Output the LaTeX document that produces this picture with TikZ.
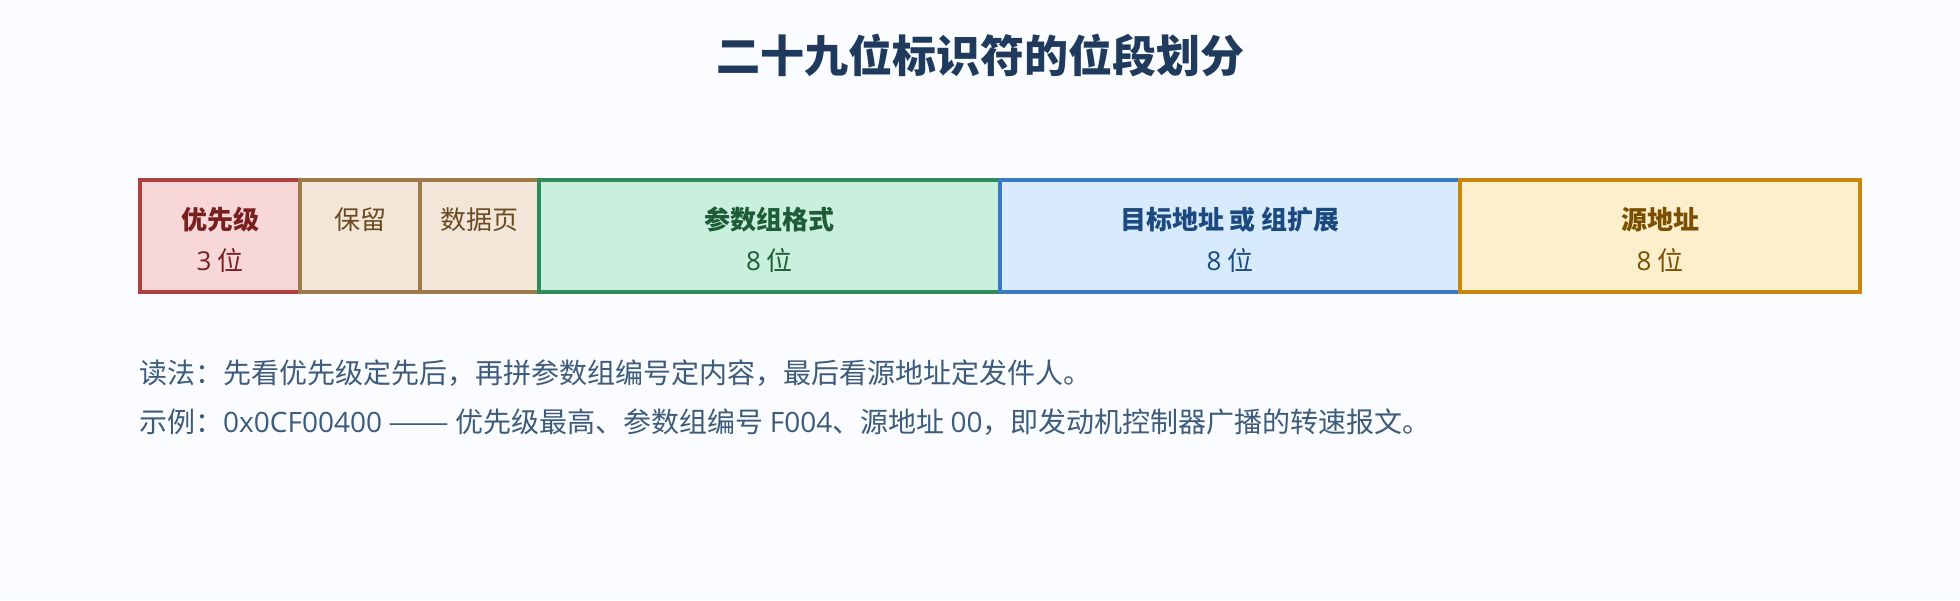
\documentclass[tikz,border=0pt]{standalone}
\usepackage{fontspec}
\usepackage{graphicx}
\setmainfont{Noto Sans CJK SC}
\newfontfamily\latinfont{Open Sans}
\usetikzlibrary{positioning}

\definecolor{bgc}{HTML}{FAFCFF}
\definecolor{titlec}{HTML}{1F3A5C}
\definecolor{notec}{HTML}{3D5B7A}
\definecolor{prifill}{HTML}{F7D7D7}
\definecolor{pridraw}{HTML}{B03F42}
\definecolor{pritext}{HTML}{7A1E1E}
\definecolor{resfill}{HTML}{F2E6D8}
\definecolor{resdraw}{HTML}{9C7A4A}
\definecolor{restext}{HTML}{6B4A22}
\definecolor{pgnfill}{HTML}{C8F0DC}
\definecolor{pgndraw}{HTML}{2E8A58}
\definecolor{pgntext}{HTML}{1E5C38}
\definecolor{dstfill}{HTML}{D8EBFC}
\definecolor{dstdraw}{HTML}{3A7BBF}
\definecolor{dsttext}{HTML}{1C4A80}
\definecolor{srcfill}{HTML}{FDEFCC}
\definecolor{srcdraw}{HTML}{C8860A}
\definecolor{srctext}{HTML}{7A5000}

\begin{document}
\begin{tikzpicture}[x=1pt,y=-1pt,
    seg/.style={rectangle,draw,line width=3.5pt,outer sep=0pt,inner sep=0pt,
        minimum height=112pt,text height=72pt,align=center,font=\fontsize{26}{41}\selectfont},
    note/.style={anchor=west,inner sep=0pt,text=notec,font=\fontsize{28}{32}\selectfont}]
    \fill[bgc] (0,0) rectangle (1960,600);
    \node[text=titlec,font=\fontsize{44}{50}\selectfont\bfseries](title) at (980,55){二十九位标识符的位段划分};
    % the six fields, left to right
    \node[seg,fill=prifill,draw=pridraw,text=pritext,minimum width=160pt](pri) at (220,236){\textbf{优先级}\\{\latinfont 3} 位};
    \node[seg,fill=resfill,draw=resdraw,text=restext,minimum width=120pt](res)[right=0pt of pri]{保留\\\phantom{3 位}};
    \node[seg,fill=resfill,draw=resdraw,text=restext,minimum width=119pt](dp)[right=0pt of res]{数据页\\\phantom{3 位}};
    \node[seg,fill=pgnfill,draw=pgndraw,text=pgntext,minimum width=461pt](pf)[right=0pt of dp]{\textbf{参数组格式}\\{\latinfont 8} 位};
    \node[seg,fill=dstfill,draw=dstdraw,text=dsttext,minimum width=460pt](ps)[right=0pt of pf]{\textbf{目标地址 或 组扩展}\\{\latinfont 8} 位};
    \node[seg,fill=srcfill,draw=srcdraw,text=srctext,minimum width=400pt](sa)[right=0pt of ps]{\textbf{源地址}\\{\latinfont 8} 位};
    % notes
    \node[note](read) at (139,373){读法：先看优先级定先后，再拼参数组编号定内容，最后看源地址定发件人。};
    \node[note](demo) at (139,422){示例：{\latinfont 0x0CF00400} \scalebox{1.3}[1]{——} 优先级最高、参数组编号 {\latinfont F004}、源地址 {\latinfont 00}，即发动机控制器广播的转速报文。};
\end{tikzpicture}
\end{document}
